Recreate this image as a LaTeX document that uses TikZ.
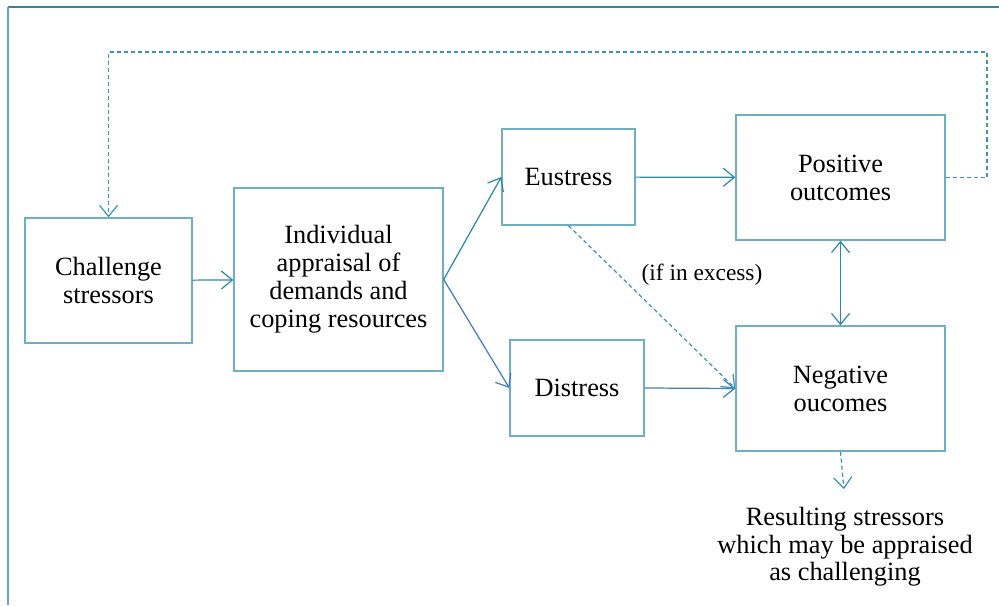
\documentclass[tikz,border=0pt]{standalone}
\usepackage{fontspec}
\setmainfont{Liberation Serif}
\usetikzlibrary{arrows.meta}
\usetikzlibrary{positioning}
\definecolor{boxline}{RGB}{110,176,193}
\definecolor{arrowteal}{RGB}{47,136,160}
\definecolor{arrowblue}{RGB}{66,125,190}
\definecolor{frametop}{RGB}{62,128,146}
\definecolor{frameleft}{RGB}{95,170,188}
\definecolor{fbdash}{RGB}{58,150,178}

\tikzset{
  stressbox/.style={draw=boxline, line width=0.8pt, align=center, inner sep=2pt,
    font=\fontsize{15}{16}\selectfont},
  flow/.style={->, line width=0.7pt, color=arrowteal},
  dashflow/.style={->, line width=0.7pt, color=fbdash, dash pattern=on 2.3pt off 1.7pt}
}

\begin{document}
\begin{tikzpicture}[x=0.02cm, y=-0.02cm, >={Straight Barb[length=2.2mm,width=3.6mm]}]
\useasboundingbox (0,0) rectangle (999,605);

% frame
  \draw[frametop, line width=0.9pt] (8,7) -- (999,7);
  \draw[frameleft, line width=0.9pt] (8,7) -- (8,605);

% boxes
  \node[stressbox, minimum width=3.34cm, minimum height=2.5cm] (challenge) at (108.5,280.5) {Challenge\\stressors};
  \node[stressbox, minimum width=4.18cm, minimum height=3.66cm] (appraisal) at (338.5,279.5) {Individual\\appraisal of\\demands and\\coping resources};
  \node[stressbox, minimum width=2.66cm, minimum height=1.92cm] (eustress) at (568.5,177) {Eustress};
  \node[stressbox, minimum width=2.68cm, minimum height=1.92cm] (distress) at (577,388) {Distress};
  \node[stressbox, minimum width=4.18cm, minimum height=2.5cm] (positive) at (840.5,177.5) {Positive\\outcomes};
  \node[stressbox, minimum width=4.18cm, minimum height=2.5cm] (negative) at (840.5,388.5) {Negative\\oucomes};

% labels
  \node[font=\fontsize{13.3}{15}\selectfont] (excess) at (702,275) {(if in excess)};
  \node[align=center, font=\fontsize{15}{15.6}\selectfont] (result) at (845,547) {Resulting stressors\\which may be appraised\\as challenging};

% arrows
  \draw[flow] (challenge) -- (appraisal);
  \draw[flow] (appraisal.east) -- (eustress.west);
  \draw[flow, color=arrowblue] (appraisal.east) -- (distress.west);
  \draw[flow] (eustress) -- (positive);
  \draw[flow, color=arrowblue] (distress.east) -- (negative.west);
  \draw[dashflow] (eustress.south) -- (negative.west);
  \draw[flow, <->] (positive) -- (negative);
  \draw[dashflow, shorten >=7pt] (negative.south) -- (result.north);

% feedback loop
  \coordinate (fbR) at (987,52);
  \coordinate (fbL) at (108.5,52);
  \draw[dashflow] (positive.east) -| (fbR) -- (fbL) -- (challenge.north);

\end{tikzpicture}
\end{document}
